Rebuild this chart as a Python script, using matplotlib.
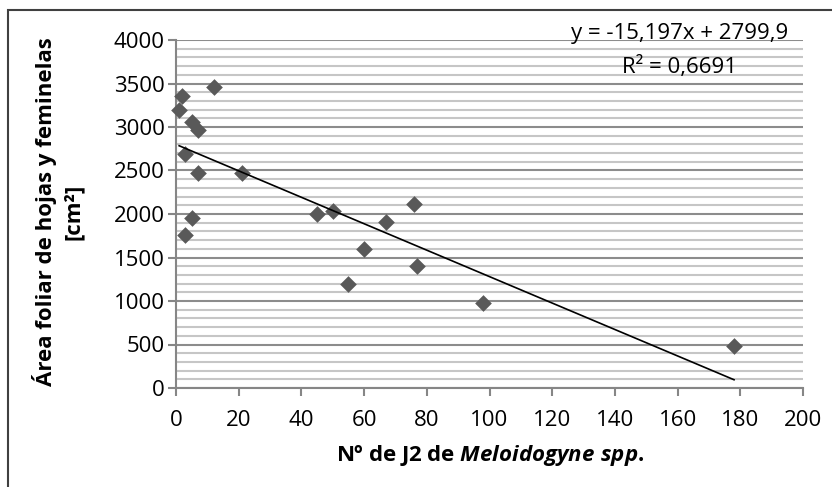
import numpy as np
import matplotlib
matplotlib.use("Agg")
import matplotlib.pyplot as plt
from matplotlib.patches import Rectangle
from matplotlib.ticker import MultipleLocator

plt.rcParams["font.family"] = ["Open Sans", "DejaVu Sans"]
plt.rcParams["mathtext.fontset"] = "custom"
plt.rcParams["mathtext.it"] = "Open Sans:italic:bold"
plt.rcParams["mathtext.rm"] = "Open Sans:bold"

# datos
j2_count = [1, 2, 12, 5, 7, 3, 7, 21, 5, 3, 45, 50, 55, 60, 67, 76, 77, 98, 178]
leaf_area = [3200, 3360, 3460, 3060, 2960, 2690, 2470, 2470, 1950, 1760,
             2000, 2040, 1200, 1600, 1910, 2110, 1400, 980, 480]

slope = -15.197
intercept = 2799.9
r2 = 0.6691

x_ticks = [0, 20, 40, 60, 80, 100, 120, 140, 160, 180, 200]
y_ticks = [0, 500, 1000, 1500, 2000, 2500, 3000, 3500, 4000]

FS = 16

W, H = 832, 487
fig = plt.figure(figsize=(W / 100, H / 100), dpi=100)
ax = fig.add_axes([176 / W, 1 - 388 / H, (803 - 176) / W, (388 - 40) / H])

# lineas de cuadricula
ax.yaxis.set_minor_locator(MultipleLocator(100))
ax.grid(axis="y", which="minor", color="#c6c6c6", linewidth=1.5, zorder=0)
ax.grid(axis="y", which="major", color="#8c8c8c", linewidth=1.5, zorder=0)
ax.tick_params(axis="y", which="minor", length=0)

ax.scatter(j2_count, leaf_area, marker="D", s=8.5 ** 2, color="#595959",
           linewidths=0, zorder=3, clip_on=False)

xs = np.array([min(j2_count), max(j2_count)])
ax.plot(xs, slope * xs + intercept, color="black", linewidth=1.2, zorder=4)

ax.set_xlim(0, 200)
ax.set_ylim(0, 4000)
ax.set_xticks(x_ticks)
ax.set_yticks(y_ticks)
ax.set_xticklabels([str(t) for t in x_ticks])
ax.set_yticklabels([str(t) for t in y_ticks])

for side in ["top", "right"]:
    ax.spines[side].set_visible(False)
for side in ["left", "bottom"]:
    ax.spines[side].set_color("#868686")
    ax.spines[side].set_linewidth(1.5)

ax.tick_params(axis="x", which="major", length=6, width=1.5, color="#868686",
               labelsize=FS, pad=10)
ax.tick_params(axis="y", which="major", length=6, width=1.5, color="#868686",
               labelsize=FS, pad=2)

# ecuacion de la tendencia
eq = f"y = {slope:.3f}x + {intercept:.1f}".replace(".", ",")
fig.text(680 / W, 1 - 33 / H, eq, ha="center", va="center", fontsize=FS)
fig.text(680 / W, 1 - 67 / H, f"R² = {r2:.4f}".replace(".", ","),
         ha="center", va="center", fontsize=FS)

# titulos de ejes
fig.text(45 / W, 1 - 212 / H, "Área foliar de hojas y feminelas",
         rotation=90, ha="center", va="center", fontsize=FS, fontweight="bold")
fig.text(73 / W, 1 - 212 / H, "[cm²]",
         rotation=90, ha="center", va="center", fontsize=FS, fontweight="bold")
fig.text(490 / W, 1 - 456 / H, r"Nº de J2 de $\mathit{Meloidogyne\ spp.}$",
         ha="center", va="center", fontsize=FS, fontweight="bold")

# borde del area del grafico
fig.patches.append(Rectangle((8 / W, -0.1), 1.2, 1 - 10 / H + 0.1,
                             transform=fig.transFigure, fill=False,
                             edgecolor="#404040", linewidth=1.5))

fig.savefig("out.png", dpi=100)
